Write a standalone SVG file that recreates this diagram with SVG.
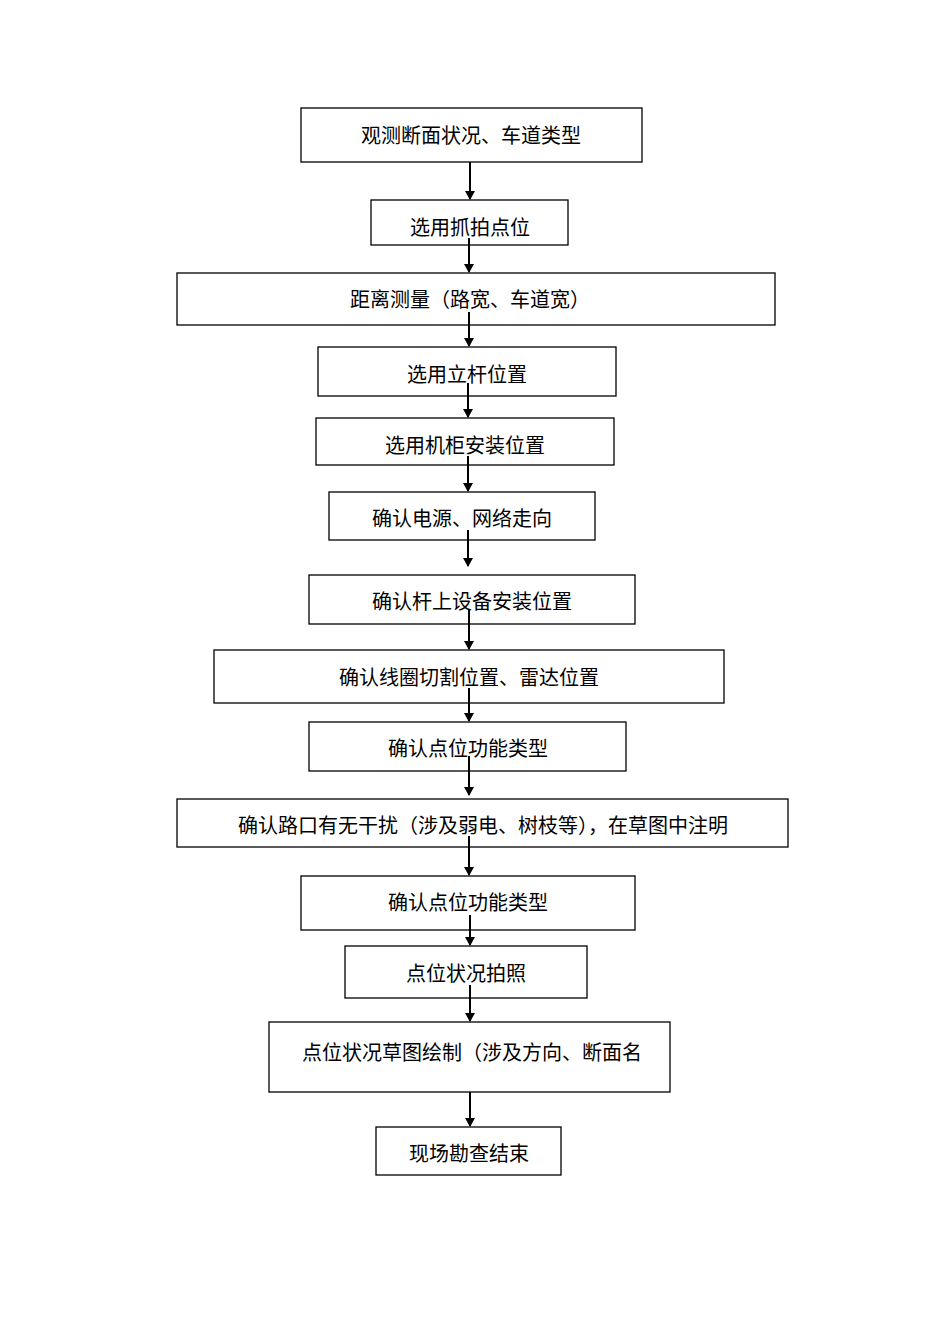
<svg xmlns="http://www.w3.org/2000/svg" width="950" height="1344" viewBox="0 0 950 1344">
<style>
rect{fill:#fff;stroke:#000;stroke-width:1.3}
text{font-family:"Liberation Serif","Noto Sans CJK SC",serif;font-size:20px;fill:#000;text-anchor:middle;dominant-baseline:central}
line{stroke:#000;stroke-width:2;marker-end:url(#a)}
</style>
<defs><marker id="a" markerWidth="10" markerHeight="10" refX="8" refY="5" orient="auto" markerUnits="userSpaceOnUse"><path d="M0,0L9,5L0,10Z" fill="#000"/></marker></defs>
<g id="n1"><rect x="301" y="108" width="341" height="54"/><text x="471" y="136">观测断面状况、车道类型</text></g>
<g id="n2"><rect x="371" y="200" width="197" height="45"/><text x="470" y="228">选用抓拍点位</text></g>
<g id="n3"><rect x="177" y="273" width="598" height="52"/><text x="470" y="300">距离测量（路宽、车道宽）</text></g>
<g id="n4"><rect x="318" y="347" width="298" height="49"/><text x="467" y="375">选用立杆位置</text></g>
<g id="n5"><rect x="316" y="418" width="298" height="47"/><text x="465" y="446">选用机柜安装位置</text></g>
<g id="n6"><rect x="329" y="492" width="266" height="48"/><text x="462" y="519">确认电源、网络走向</text></g>
<g id="n7"><rect x="309" y="575" width="326" height="49"/><text x="472" y="602">确认杆上设备安装位置</text></g>
<g id="n8"><rect x="214" y="650" width="510" height="53"/><text x="469" y="678">确认线圈切割位置、雷达位置</text></g>
<g id="n9"><rect x="309" y="722" width="317" height="49"/><text x="468" y="749">确认点位功能类型</text></g>
<g id="n10"><rect x="177" y="799" width="611" height="48"/><text x="483" y="826">确认路口有无干扰（涉及弱电、树枝等），在草图中注明</text></g>
<g id="n11"><rect x="301" y="876" width="334" height="54"/><text x="468" y="903">确认点位功能类型</text></g>
<g id="n12"><rect x="345" y="946" width="242" height="52"/><text x="466" y="974">点位状况拍照</text></g>
<g id="n13"><rect x="269" y="1022" width="401" height="70"/><text x="472" y="1053">点位状况草图绘制（涉及方向、断面名</text></g>
<g id="n14"><rect x="376" y="1127" width="185" height="48"/><text x="469" y="1154">现场勘查结束</text></g>
<g id="connectors">
<line x1="470" y1="162" x2="470" y2="199"/>
<line x1="469" y1="238" x2="469" y2="272"/>
<line x1="469" y1="312" x2="469" y2="346"/>
<line x1="468" y1="383" x2="468" y2="417"/>
<line x1="468" y1="456" x2="468" y2="491"/>
<line x1="468" y1="530" x2="468" y2="566"/>
<line x1="469" y1="610" x2="469" y2="649"/>
<line x1="469" y1="688" x2="469" y2="721"/>
<line x1="469" y1="756" x2="469" y2="795"/>
<line x1="469" y1="836" x2="469" y2="875"/>
<line x1="470" y1="915" x2="470" y2="945"/>
<line x1="470" y1="985" x2="470" y2="1021"/>
<line x1="470" y1="1092" x2="470" y2="1126"/>
</g>
</svg>
